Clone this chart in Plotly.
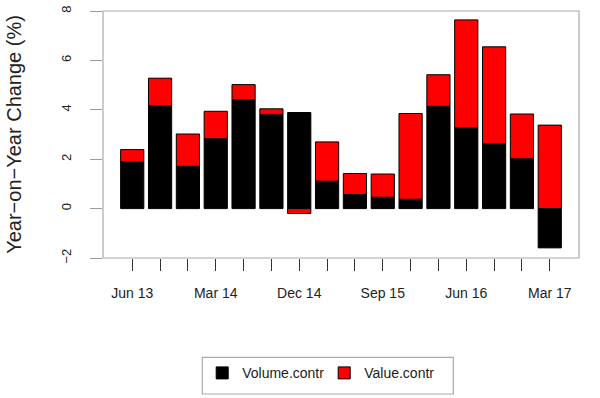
import plotly.graph_objects as go

quarters = ["Jun 13", "Sep 13", "Dec 13", "Mar 14", "Jun 14", "Sep 14", "Dec 14", "Mar 15",
            "Jun 15", "Sep 15", "Dec 15", "Mar 16", "Jun 16", "Sep 16", "Dec 16", "Mar 17"]
volume_contr = [1.89, 4.16, 1.71, 2.83, 4.41, 3.80, 3.89, 1.11, 0.57, 0.46, 0.38, 4.14, 3.27, 2.63, 2.02, -1.59]
value_contr = [0.50, 1.12, 1.31, 1.11, 0.61, 0.24, -0.20, 1.59, 0.85, 0.94, 3.47, 1.28, 4.37, 3.92, 1.81, 3.38]
shown_labels = ["Jun 13", "Mar 14", "Dec 14", "Sep 15", "Jun 16", "Mar 17"]
y_ticks = [-2, 0, 2, 4, 6, 8]

FONT = "Liberation Sans, Arial, Helvetica, sans-serif"
idx = list(range(len(quarters)))

# plot area in page pixels: x 103..579, y 11..258
L, R, T, B = 103, 579, 11, 258
PW, PH = R - L, B - T


def px(x):
    return (x - L) / PW


def py(y):
    return (B - y) / PH


fig = go.Figure()
fig.add_trace(go.Bar(x=idx, y=volume_contr, name="Volume.contr",
                     marker=dict(color="black", line=dict(color="black", width=1))))
fig.add_trace(go.Bar(x=idx, y=value_contr, name="Value.contr",
                     marker=dict(color="#ff0000", line=dict(color="black", width=1))))

fig.update_layout(
    width=600, height=398,
    margin=dict(l=L, r=600 - R, t=T, b=398 - B, autoexpand=False),
    paper_bgcolor="white", plot_bgcolor="white",
    barmode="relative", bargap=1/6,
    font=dict(family=FONT, size=14, color="#222222"),
    showlegend=True,
    legend=dict(orientation="h", xref="container", yref="container",
                x=0.337, xanchor="left", y=0.1023, yanchor="top",
                borderwidth=0, bgcolor="rgba(0,0,0,0)", entrywidth=77,
                font=dict(size=14, color="#222222")),
    xaxis=dict(range=[-1.05, 16.05], tickmode="array", tickvals=idx,
               ticktext=[q if q in shown_labels else "" for q in quarters],
               ticks="outside", ticklen=12, tickcolor="#333333", tickwidth=1,
               showline=False, showgrid=False, zeroline=False, automargin=False,
               ticklabelstandoff=10, tickangle=0, tickfont=dict(size=14)),
    yaxis=dict(range=[-2, 8], tickvals=y_ticks, ticktext=[("\u2212" + str(-v)) if v < 0 else str(v) for v in y_ticks],
               ticks="outside", ticklen=12, tickcolor="#999999", tickwidth=1,
               showline=False, showgrid=False, zeroline=False, automargin=False,
               tickangle=-90, ticklabelstandoff=14, tickfont=dict(size=13)),
    shapes=[dict(type="rect", xref="x domain", yref="y domain", x0=0, x1=1, y0=0, y1=1,
                 line=dict(color="#aaaaaa", width=1.2), fillcolor="rgba(0,0,0,0)", layer="above"),
            dict(type="rect", xref="paper", yref="paper", x0=px(202.3), x1=px(453.3),
                 y0=py(394), y1=py(357.3),
                 line=dict(color="#aaaaaa", width=1.2), fillcolor="rgba(0,0,0,0)", layer="above")],
    annotations=[dict(text="Year\u2212on\u2212Year Change (%)", textangle=-90,
                      xref="paper", yref="paper", x=px(13.3), y=0.5,
                      xanchor="center", yanchor="middle", showarrow=False,
                      font=dict(size=20, color="#222222"))],
)

fig.write_html("out.html", config={"displayModeBar": False},
               post_script="document.body.style.margin='0';document.body.style.padding='0';")
